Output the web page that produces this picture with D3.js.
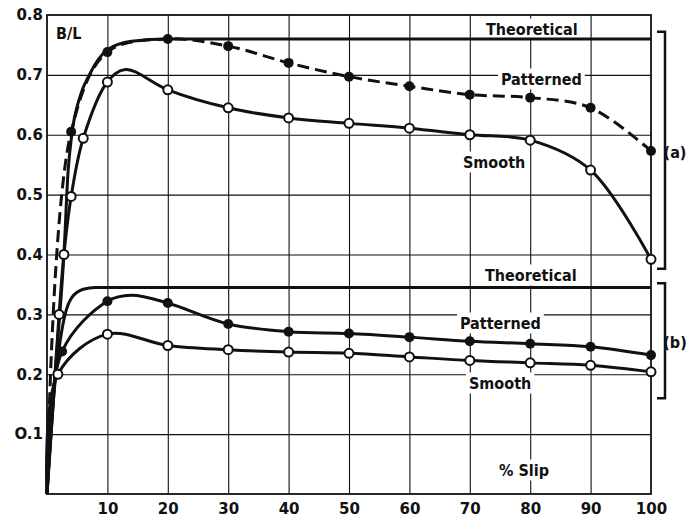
<!DOCTYPE html>
<html>
  <head>
    <meta charset="UTF-8">
    <script src="https://d3js.org/d3.v7.min.js"></script>
    <style>
      body{ margin: 0; background: #fff; }
      .grid line{ stroke: #111; stroke-width: 1.1; }
      .grid .domain{ stroke: none; }
      .axis text{ font-family: "DejaVu Sans", sans-serif; font-weight: bold; font-size: 15px; fill: #111; }
      .axis .domain, .axis line{ stroke: none; }
      .lbl{ font-family: "DejaVu Sans Condensed", "DejaVu Sans", sans-serif; font-weight: bold; font-size: 16px; fill: #111; }
    </style>
  </head>
  <body>
    <svg id="chart" width="699" height="518"></svg>
    <script>
      // [slip %, B/L, marker?]
      const theoA    = [[0,0,0],[1.5,0.22,0],[2.8,0.4,0],[3.5,0.54,0],[4.1,0.6,0],[5.5,0.665,0],[7,0.7,0],[10,0.742,0],[14,0.756,0],[20,0.76,0],[100,0.76,0]];
      const pattA    = [[0,0,0],[4,0.605,1],[10,0.738,1],[20,0.76,1],[30,0.748,1],[40,0.72,1],[50,0.697,1],[60,0.681,1],[70,0.667,1],[80,0.662,1],[90,0.645,1],[100,0.573,1]];
      const smoothA  = [[0,0,0],[2,0.3,1],[2.8,0.4,1],[4,0.497,1],[6,0.594,1],[10,0.688,1],[13,0.709,0],[20,0.675,1],[30,0.645,1],[40,0.628,1],[50,0.619,1],[60,0.611,1],[70,0.6,1],[80,0.591,1],[90,0.541,1],[100,0.392,1]];
      const theoB    = [[0,0,0],[1,0.15,0],[2.2,0.257,0],[3,0.3,0],[4.1,0.328,0],[6,0.342,0],[8,0.345,0],[100,0.345,0]];
      const pattB    = [[0,0,0],[2.5,0.238,1],[10,0.322,1],[14,0.332,0],[20,0.319,1],[30,0.284,1],[40,0.271,1],[50,0.268,1],[60,0.262,1],[70,0.255,1],[80,0.251,1],[90,0.246,1],[100,0.232,1]];
      const smoothB  = [[0,0,0],[1.8,0.2,1],[10,0.267,1],[20,0.248,1],[30,0.241,1],[40,0.237,1],[50,0.235,1],[60,0.229,1],[70,0.223,1],[80,0.219,1],[90,0.215,1],[100,0.204,1]];

      const xTicks = [10,20,30,40,50,60,70,80,90,100];
      const yTicks = [0.1,0.2,0.3,0.4,0.5,0.6,0.7,0.8];
      const yTickLabels = ["O.1","0.2","0.3","0.4","0.5","0.6","0.7","0.8"];

      const svg = d3.select("svg#chart");
      const plot = {"left": 47, "right": 651, "top": 15, "bottom": 494};

      const xScale = d3.scaleLinear().domain([0, 100]).range([plot.left, plot.right]);
      const yScale = d3.scaleLinear().domain([0, 0.8]).range([plot.bottom, plot.top]);

      // grid
      svg.append("g").attr("class", "grid")
         .attr("transform", "translate(0," + plot.bottom + ")")
         .call(d3.axisBottom(xScale).tickValues(xTicks.slice(0, 9)).tickFormat("").tickSize(-(plot.bottom - plot.top)));
      svg.append("g").attr("class", "grid")
         .attr("transform", "translate(" + plot.left + ",0)")
         .call(d3.axisLeft(yScale).tickValues(yTicks.slice(0, 7)).tickFormat("").tickSize(-(plot.right - plot.left)));

      // frame
      svg.append("rect")
         .attr("x", plot.left).attr("y", plot.top)
         .attr("width", plot.right - plot.left).attr("height", plot.bottom - plot.top)
         .attr("fill", "none").attr("stroke", "#111").attr("stroke-width", 1.8);

      // tick labels
      svg.append("g").attr("class", "axis")
         .attr("transform", "translate(" + plot.left + ",0)")
         .call(d3.axisLeft(yScale).tickValues(yTicks).tickSize(0).tickPadding(4)
               .tickFormat((d, i) => yTickLabels[i]));
      svg.append("g").attr("class", "axis")
         .attr("transform", "translate(0," + plot.bottom + ")")
         .call(d3.axisBottom(xScale).tickValues(xTicks).tickSize(0).tickPadding(9));

      // labels with white backing so grid breaks around them
      function label(txt, x, y){
        let t = svg.append("text").attr("class", "lbl")
                   .attr("x", x).attr("y", y)
                   .attr("dominant-baseline", "central")
                   .text(txt);
        let b = t.node().getBBox();
        svg.insert("rect", "text.lbl")
           .attr("x", b.x - 3).attr("y", b.y - 1)
           .attr("width", b.width + 6).attr("height", b.height + 2)
           .attr("fill", "#fff");
      }
      label("Theoretical", 486, 29);
      label("Patterned", 501, 79);
      label("Smooth", 463, 162);
      label("Theoretical", 485, 275);
      label("Patterned", 460, 323);
      label("Smooth", 469, 383);
      label("% Slip", 499, 470);
      label("B/L", 56, 33);

      const theoLine = d3.line()
                     .x(d => xScale(d[0]))
                     .y(d => yScale(d[1]))
                     .curve(d3.curveMonotoneX);
      const dataLine = d3.line()
                     .x(d => xScale(d[0]))
                     .y(d => yScale(d[1]))
                     .curve(d3.curveCatmullRom.alpha(0.5));

      function series(data, dashed, filled){
        svg.append("path")
           .attr("d", filled === null ? theoLine(data) : dataLine(data))
           .attr("fill", "none")
           .attr("stroke", "#111")
           .attr("stroke-width", 3)
           .attr("stroke-dasharray", dashed ? "12,6" : null);
        if(filled === null) return;
        svg.append("g").selectAll("circle")
           .data(data.filter(d => d[2]))
           .join("circle")
           .attr("cx", d => xScale(d[0]))
           .attr("cy", d => yScale(d[1]))
           .attr("r", filled ? 5 : 4.5)
           .attr("fill", filled ? "#111" : "#fff")
           .attr("stroke", "#111")
           .attr("stroke-width", filled ? 0 : 2);
      }
      series(theoA, false, null);
      series(theoB, false, null);
      series(pattA, true, true);
      series(smoothA, false, false);
      series(pattB, false, true);
      series(smoothB, false, false);

      // right brackets
      function bracket(y1, y2, txt){
        svg.append("path")
           .attr("d", "M657," + y1 + "H665V" + y2 + "H657")
           .attr("fill", "none").attr("stroke", "#111").attr("stroke-width", 2.5);
        svg.append("text").attr("class", "lbl")
           .attr("x", 675).attr("y", (y1 + y2) / 2 + 2)
           .attr("text-anchor", "middle").attr("dominant-baseline", "central")
           .text(txt);
      }
      bracket(yScale(0.772), yScale(0.376), "(a)");
      bracket(yScale(0.352), yScale(0.16), "(b)");
    </script>
  </body>
</html>
